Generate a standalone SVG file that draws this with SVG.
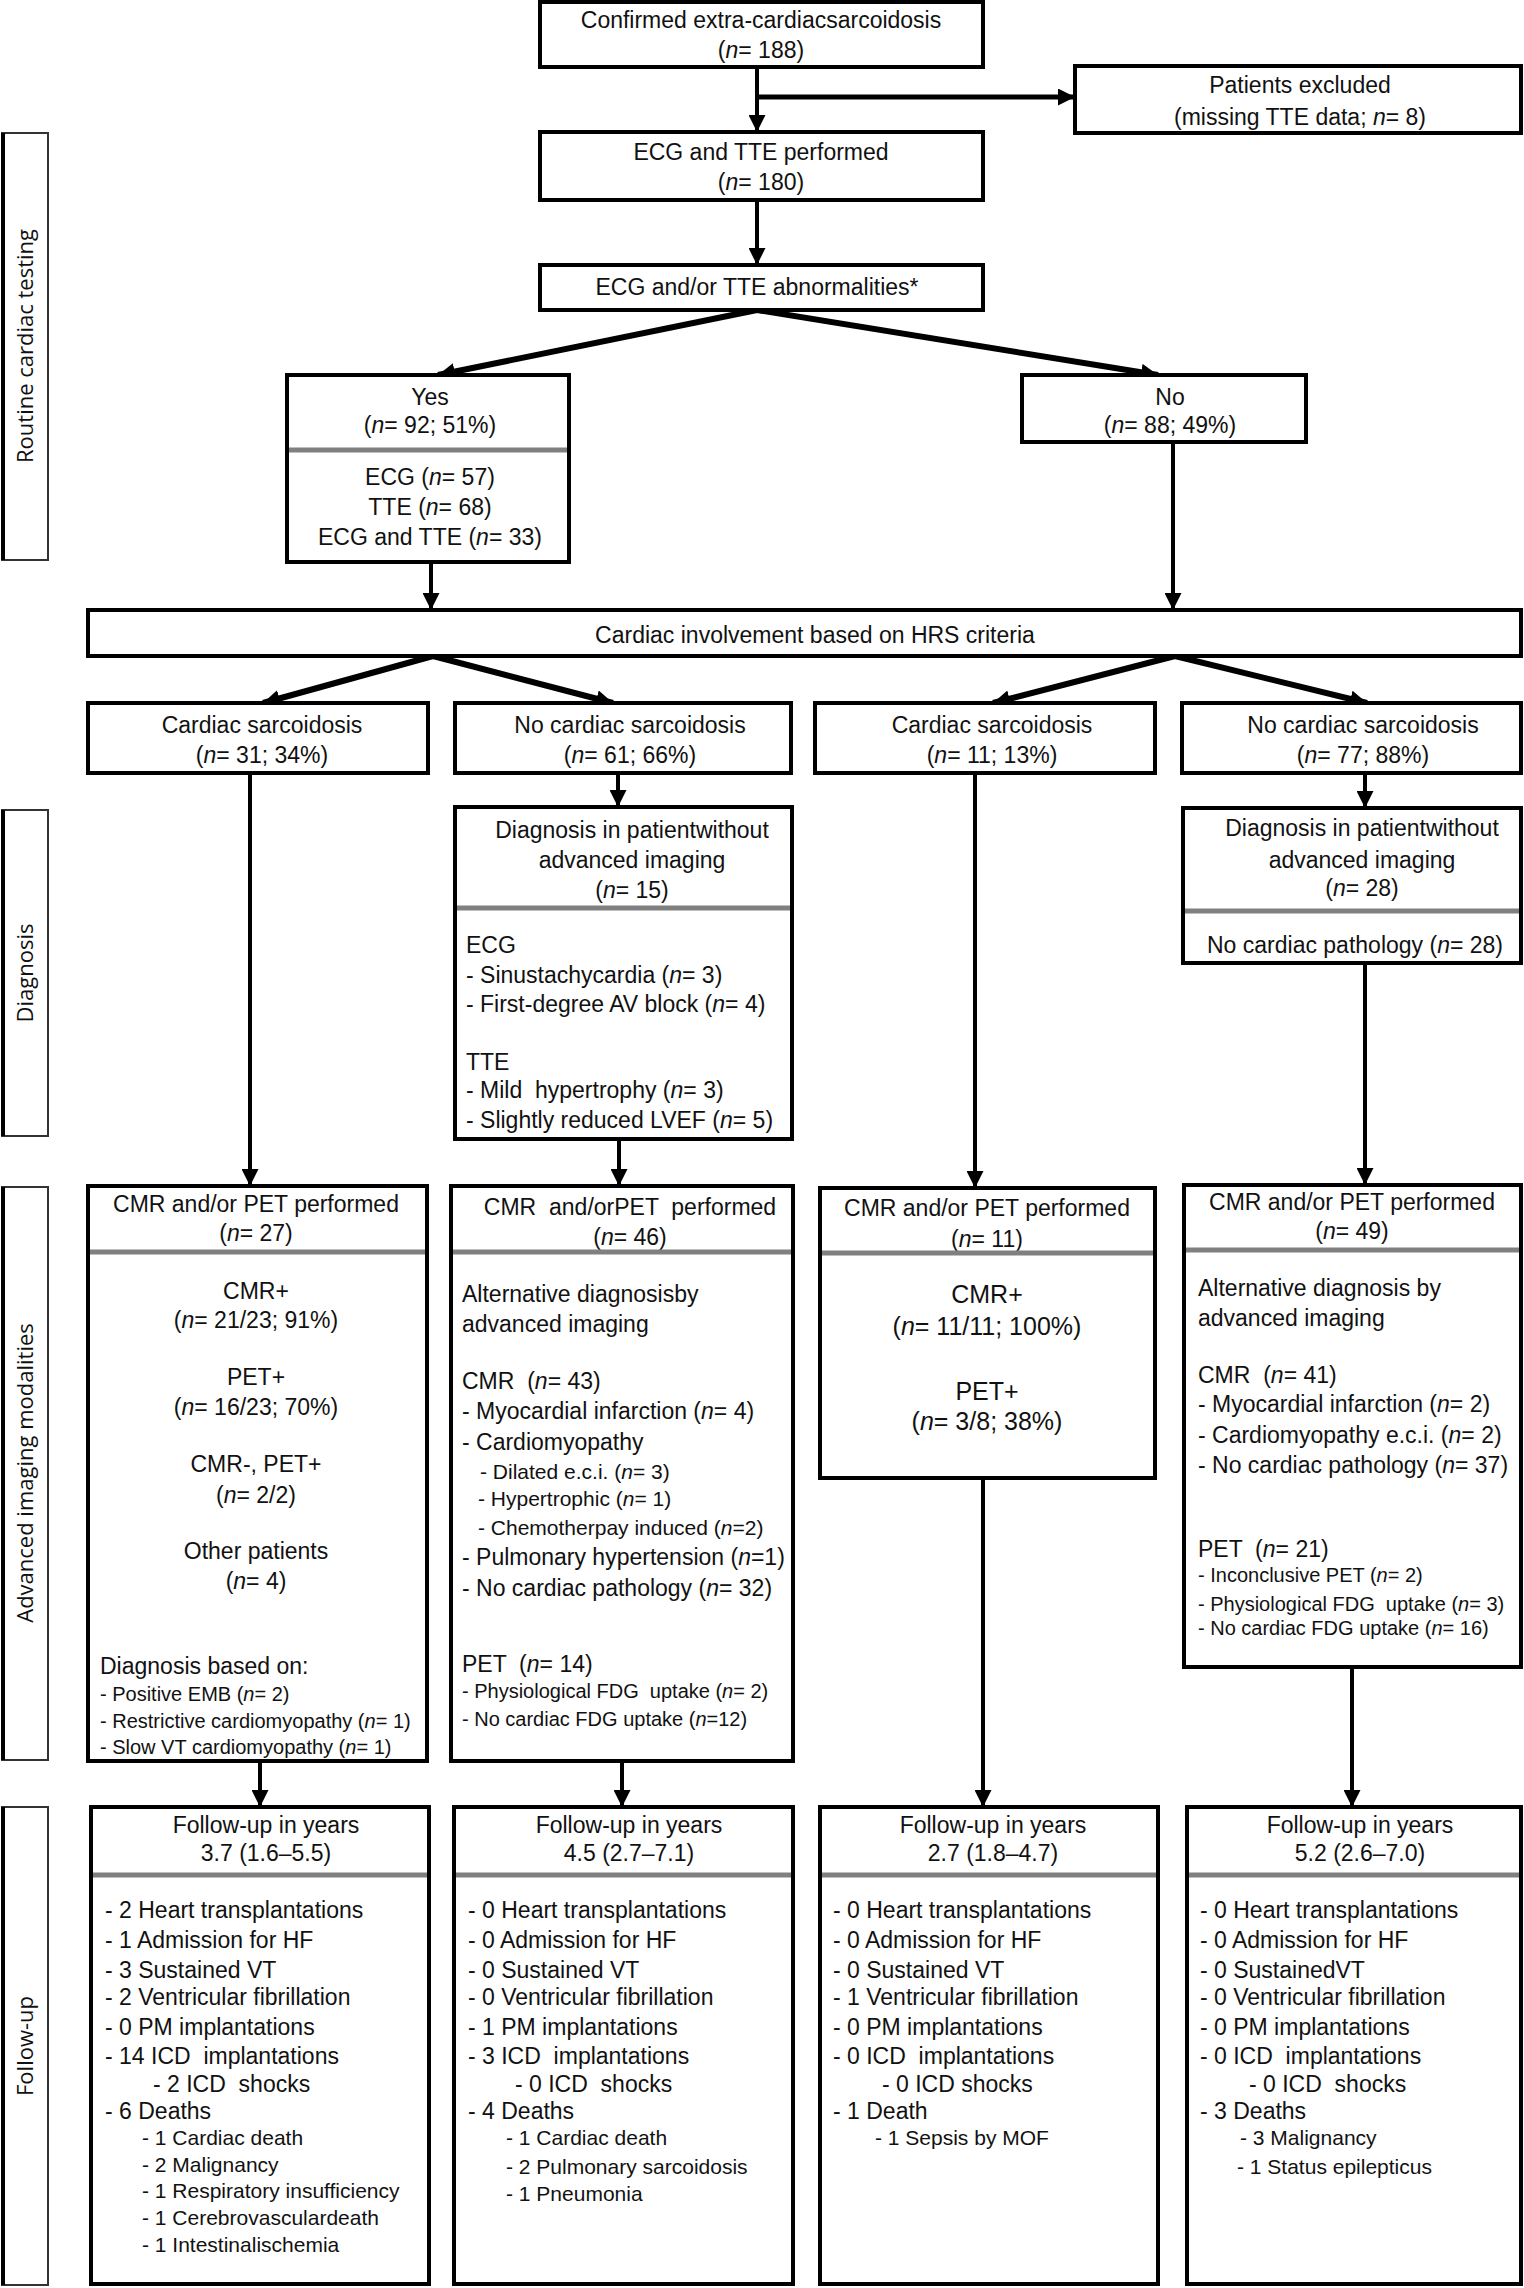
<svg xmlns="http://www.w3.org/2000/svg" width="1524" height="2288" viewBox="0 0 1524 2288" xml:space="preserve">
<style>
.b{fill:#fff;stroke:#000;stroke-width:4}
.lb{fill:#fff;stroke:#333;stroke-width:2}
.t{font-family:"Liberation Sans",Arial,sans-serif;font-size:23px;fill:#111;white-space:pre}
.c{text-anchor:middle}
.s{font-size:20px}
.m{font-size:21px}
.l{font-size:25px}
.dv{stroke:#808080;stroke-width:5}
.lab{font-family:"Open Sans","DejaVu Sans",sans-serif;font-size:22px;fill:#111;text-anchor:middle}
.cn{stroke:#000;stroke-width:4;fill:none;marker-end:url(#ah)}
.dg{stroke-width:6}
.i{font-style:italic}
</style>
<defs>
<marker id="ah" viewBox="0 0 10 10" refX="10" refY="5" markerUnits="userSpaceOnUse" markerWidth="17" markerHeight="17" orient="auto"><path d="M0,0 L10,5 L0,10 z" fill="#000"/></marker>
</defs>
<rect width="1524" height="2288" fill="#fff"/>

<g id="labels">
<g id="lab-routine"><rect class="lb" x="2" y="133" width="46" height="427"/><line x1="3" y1="133" x2="3" y2="560" stroke="#000" stroke-width="4"/><text class="lab" transform="translate(33,346) rotate(-90)">Routine cardiac testing</text></g>
<g id="lab-diagnosis"><rect class="lb" x="2" y="810" width="46" height="326"/><line x1="3" y1="810" x2="3" y2="1136" stroke="#000" stroke-width="4"/><text class="lab" transform="translate(33,973) rotate(-90)">Diagnosis</text></g>
<g id="lab-advanced"><rect class="lb" x="2" y="1187" width="46" height="573"/><line x1="3" y1="1187" x2="3" y2="1760" stroke="#000" stroke-width="4"/><text class="lab" transform="translate(33,1473) rotate(-90)">Advanced imaging modalities</text></g>
<g id="lab-followup"><rect class="lb" x="2" y="1807" width="46" height="478"/><line x1="3" y1="1807" x2="3" y2="2285" stroke="#000" stroke-width="4"/><text class="lab" transform="translate(33,2046) rotate(-90)">Follow-up</text></g>
</g>

<g id="connectors">
<path class="cn" d="M757,67 V132"/>
<path class="cn" d="M757,97 H1075" style="stroke-width:5"/>
<path class="cn" d="M757,200 V265"/>
<path class="cn dg" d="M757,310 L438,375"/>
<path class="cn dg" d="M757,310 L1158,375"/>
<path class="cn" d="M431,562 V610"/>
<path class="cn" d="M1173,442 V610"/>
<path class="cn dg" d="M433,656 L263,703"/>
<path class="cn dg" d="M433,656 L613,703"/>
<path class="cn dg" d="M1175,656 L993,703"/>
<path class="cn dg" d="M1175,656 L1367,703"/>
<path class="cn" d="M250,773 V1186"/>
<path class="cn" d="M618,773 V807"/>
<path class="cn" d="M619,1139 V1186"/>
<path class="cn" d="M975,773 V1188"/>
<path class="cn" d="M1365,773 V808"/>
<path class="cn" d="M1365,963 V1185"/>
<path class="cn" d="M260,1761 V1807"/>
<path class="cn" d="M622,1761 V1807"/>
<path class="cn" d="M983,1478 V1807"/>
<path class="cn" d="M1352,1667 V1807"/>
</g>

<g id="n-confirmed"><rect class="b" x="540" y="2" width="443" height="65"/>
<text class="t c" x="761" y="28">Confirmed extra-cardiacsarcoidosis</text>
<text class="t c" x="761" y="58">(<tspan class="i">n</tspan>= 188)</text></g>

<g id="n-excluded"><rect class="b" x="1075" y="66" width="446" height="67"/>
<text class="t c" x="1300" y="93">Patients excluded</text>
<text class="t c" x="1300" y="125">(missing TTE data; <tspan class="i">n</tspan>= 8)</text></g>

<g id="n-ecgtte"><rect class="b" x="540" y="132" width="443" height="68"/>
<text class="t c" x="761" y="160">ECG and TTE performed</text>
<text class="t c" x="761" y="190">(<tspan class="i">n</tspan>= 180)</text></g>

<g id="n-abn"><rect class="b" x="540" y="265" width="443" height="45"/>
<text class="t c" x="757" y="295">ECG and/or TTE abnormalities*</text></g>

<g id="n-yes"><rect class="b" x="287" y="375" width="282" height="187"/>
<text class="t c" x="430" y="405">Yes</text>
<text class="t c" x="430" y="433">(<tspan class="i">n</tspan>= 92; 51%)</text>
<line class="dv" x1="289" y1="450" x2="567" y2="450"/>
<text class="t c" x="430" y="485">ECG (<tspan class="i">n</tspan>= 57)</text>
<text class="t c" x="430" y="515">TTE (<tspan class="i">n</tspan>= 68)</text>
<text class="t c" x="430" y="545">ECG and TTE (<tspan class="i">n</tspan>= 33)</text></g>

<g id="n-no"><rect class="b" x="1022" y="375" width="284" height="67"/>
<text class="t c" x="1170" y="405">No</text>
<text class="t c" x="1170" y="433">(<tspan class="i">n</tspan>= 88; 49%)</text></g>

<g id="n-hrs"><rect class="b" x="88" y="610" width="1433" height="46"/>
<text class="t c" x="815" y="643">Cardiac involvement based on HRS criteria</text></g>

<g id="n-cs1"><rect class="b" x="88" y="703" width="340" height="70"/>
<text class="t c" x="262" y="733">Cardiac sarcoidosis</text>
<text class="t c" x="262" y="763">(<tspan class="i">n</tspan>= 31; 34%)</text></g>
<g id="n-ncs1"><rect class="b" x="455" y="703" width="336" height="70"/>
<text class="t c" x="630" y="733">No cardiac sarcoidosis</text>
<text class="t c" x="630" y="763">(<tspan class="i">n</tspan>= 61; 66%)</text></g>
<g id="n-cs2"><rect class="b" x="815" y="703" width="340" height="70"/>
<text class="t c" x="992" y="733">Cardiac sarcoidosis</text>
<text class="t c" x="992" y="763">(<tspan class="i">n</tspan>= 11; 13%)</text></g>
<g id="n-ncs2"><rect class="b" x="1182" y="703" width="339" height="70"/>
<text class="t c" x="1363" y="733">No cardiac sarcoidosis</text>
<text class="t c" x="1363" y="763">(<tspan class="i">n</tspan>= 77; 88%)</text></g>

<g id="n-diag1"><rect class="b" x="455" y="807" width="337" height="332"/>
<text class="t c" x="632" y="838">Diagnosis in patientwithout</text>
<text class="t c" x="632" y="868">advanced imaging</text>
<text class="t c" x="632" y="898">(<tspan class="i">n</tspan>= 15)</text>
<line class="dv" x1="457" y1="908" x2="790" y2="908"/>
<text class="t" x="466" y="953">ECG</text>
<text class="t" x="466" y="983">- Sinustachycardia (<tspan class="i">n</tspan>= 3)</text>
<text class="t" x="466" y="1012">- First-degree AV block (<tspan class="i">n</tspan>= 4)</text>
<text class="t" x="466" y="1070">TTE</text>
<text class="t" x="466" y="1098" xml:space="preserve">- Mild  hypertrophy (<tspan class="i">n</tspan>= 3)</text>
<text class="t" x="466" y="1128">- Slightly reduced LVEF (<tspan class="i">n</tspan>= 5)</text></g>

<g id="n-diag2"><rect class="b" x="1183" y="808" width="338" height="155"/>
<text class="t c" x="1362" y="836">Diagnosis in patientwithout</text>
<text class="t c" x="1362" y="868">advanced imaging</text>
<text class="t c" x="1362" y="896">(<tspan class="i">n</tspan>= 28)</text>
<line class="dv" x1="1185" y1="911" x2="1519" y2="911"/>
<text class="t c" x="1355" y="953">No cardiac pathology (<tspan class="i">n</tspan>= 28)</text></g>

<g id="n-cmr1"><rect class="b" x="88" y="1186" width="339" height="575"/>
<text class="t c" x="256" y="1212">CMR and/or PET performed</text>
<text class="t c" x="256" y="1241">(<tspan class="i">n</tspan>= 27)</text>
<line class="dv" x1="90" y1="1252" x2="425" y2="1252"/>
<text class="t c" x="256" y="1299">CMR+</text>
<text class="t c" x="256" y="1328">(<tspan class="i">n</tspan>= 21/23; 91%)</text>
<text class="t c" x="256" y="1385">PET+</text>
<text class="t c" x="256" y="1415">(<tspan class="i">n</tspan>= 16/23; 70%)</text>
<text class="t c" x="256" y="1472">CMR-, PET+</text>
<text class="t c" x="256" y="1503">(<tspan class="i">n</tspan>= 2/2)</text>
<text class="t c" x="256" y="1559">Other patients</text>
<text class="t c" x="256" y="1589">(<tspan class="i">n</tspan>= 4)</text>
<text class="t" x="100" y="1674">Diagnosis based on:</text>
<text class="t s" x="100" y="1701">- Positive EMB (<tspan class="i">n</tspan>= 2)</text>
<text class="t s" x="100" y="1728">- Restrictive cardiomyopathy (<tspan class="i">n</tspan>= 1)</text>
<text class="t s" x="100" y="1754">- Slow VT cardiomyopathy (<tspan class="i">n</tspan>= 1)</text></g>

<g id="n-cmr2"><rect class="b" x="451" y="1186" width="342" height="575"/>
<text class="t c" x="630" y="1215" xml:space="preserve">CMR  and/orPET  performed</text>
<text class="t c" x="630" y="1245">(<tspan class="i">n</tspan>= 46)</text>
<line class="dv" x1="453" y1="1252" x2="791" y2="1252"/>
<text class="t" x="462" y="1302">Alternative diagnosisby</text>
<text class="t" x="462" y="1332">advanced imaging</text>
<text class="t" x="462" y="1389" xml:space="preserve">CMR  (<tspan class="i">n</tspan>= 43)</text>
<text class="t" x="462" y="1419">- Myocardial infarction (<tspan class="i">n</tspan>= 4)</text>
<text class="t" x="462" y="1450">- Cardiomyopathy</text>
<text class="t m" x="480" y="1479">- Dilated e.c.i. (<tspan class="i">n</tspan>= 3)</text>
<text class="t m" x="478" y="1506">- Hypertrophic (<tspan class="i">n</tspan>= 1)</text>
<text class="t m" x="478" y="1535">- Chemotherpay induced (<tspan class="i">n</tspan>=2)</text>
<text class="t" x="462" y="1565">- Pulmonary hypertension (<tspan class="i">n</tspan>=1)</text>
<text class="t" x="462" y="1596">- No cardiac pathology (<tspan class="i">n</tspan>= 32)</text>
<text class="t" x="462" y="1672" xml:space="preserve">PET  (<tspan class="i">n</tspan>= 14)</text>
<text class="t s" x="462" y="1698" xml:space="preserve">- Physiological FDG  uptake (<tspan class="i">n</tspan>= 2)</text>
<text class="t s" x="462" y="1726">- No cardiac FDG uptake (<tspan class="i">n</tspan>=12)</text></g>

<g id="n-cmr3"><rect class="b" x="820" y="1188" width="335" height="290"/>
<text class="t c" x="987" y="1216">CMR and/or PET performed</text>
<text class="t c" x="987" y="1247">(<tspan class="i">n</tspan>= 11)</text>
<line class="dv" x1="822" y1="1253" x2="1153" y2="1253"/>
<text class="t c l" x="987" y="1303">CMR+</text>
<text class="t c l" x="987" y="1335">(<tspan class="i">n</tspan>= 11/11; 100%)</text>
<text class="t c l" x="987" y="1400">PET+</text>
<text class="t c l" x="987" y="1430">(<tspan class="i">n</tspan>= 3/8; 38%)</text></g>

<g id="n-cmr4"><rect class="b" x="1184" y="1185" width="337" height="482"/>
<text class="t c" x="1352" y="1210">CMR and/or PET performed</text>
<text class="t c" x="1352" y="1239">(<tspan class="i">n</tspan>= 49)</text>
<line class="dv" x1="1186" y1="1250" x2="1519" y2="1250"/>
<text class="t" x="1198" y="1296">Alternative diagnosis by</text>
<text class="t" x="1198" y="1326">advanced imaging</text>
<text class="t" x="1198" y="1383" xml:space="preserve">CMR  (<tspan class="i">n</tspan>= 41)</text>
<text class="t" x="1198" y="1412">- Myocardial infarction (<tspan class="i">n</tspan>= 2)</text>
<text class="t" x="1198" y="1443">- Cardiomyopathy e.c.i. (<tspan class="i">n</tspan>= 2)</text>
<text class="t" x="1198" y="1473">- No cardiac pathology (<tspan class="i">n</tspan>= 37)</text>
<text class="t" x="1198" y="1557" xml:space="preserve">PET  (<tspan class="i">n</tspan>= 21)</text>
<text class="t s" x="1198" y="1582">- Inconclusive PET (<tspan class="i">n</tspan>= 2)</text>
<text class="t s" x="1198" y="1611" xml:space="preserve">- Physiological FDG  uptake (<tspan class="i">n</tspan>= 3)</text>
<text class="t s" x="1198" y="1635">- No cardiac FDG uptake (<tspan class="i">n</tspan>= 16)</text></g>

<g id="n-fu1"><rect class="b" x="91" y="1807" width="338" height="477"/>
<text class="t c" x="266" y="1833">Follow-up in years</text>
<text class="t c" x="266" y="1861">3.7 (1.6–5.5)</text>
<line class="dv" x1="93" y1="1875" x2="427" y2="1875"/>
<text class="t" x="105" y="1918">- 2 Heart transplantations</text>
<text class="t" x="105" y="1948">- 1 Admission for HF</text>
<text class="t" x="105" y="1978">- 3 Sustained VT</text>
<text class="t" x="105" y="2005">- 2 Ventricular fibrillation</text>
<text class="t" x="105" y="2035">- 0 PM implantations</text>
<text class="t" x="105" y="2064" xml:space="preserve">- 14 ICD  implantations</text>
<text class="t" x="153" y="2092" xml:space="preserve">- 2 ICD  shocks</text>
<text class="t" x="105" y="2119">- 6 Deaths</text>
<text class="t m" x="142" y="2145">- 1 Cardiac death</text>
<text class="t m" x="142" y="2172">- 2 Malignancy</text>
<text class="t m" x="142" y="2198">- 1 Respiratory insufficiency</text>
<text class="t m" x="142" y="2225">- 1 Cerebrovasculardeath</text>
<text class="t m" x="142" y="2252">- 1 Intestinalischemia</text></g>

<g id="n-fu2"><rect class="b" x="454" y="1807" width="339" height="477"/>
<text class="t c" x="629" y="1833">Follow-up in years</text>
<text class="t c" x="629" y="1861">4.5 (2.7–7.1)</text>
<line class="dv" x1="456" y1="1875" x2="791" y2="1875"/>
<text class="t" x="468" y="1918">- 0 Heart transplantations</text>
<text class="t" x="468" y="1948">- 0 Admission for HF</text>
<text class="t" x="468" y="1978">- 0 Sustained VT</text>
<text class="t" x="468" y="2005">- 0 Ventricular fibrillation</text>
<text class="t" x="468" y="2035">- 1 PM implantations</text>
<text class="t" x="468" y="2064" xml:space="preserve">- 3 ICD  implantations</text>
<text class="t" x="515" y="2092" xml:space="preserve">- 0 ICD  shocks</text>
<text class="t" x="468" y="2119">- 4 Deaths</text>
<text class="t m" x="506" y="2145">- 1 Cardiac death</text>
<text class="t m" x="506" y="2174">- 2 Pulmonary sarcoidosis</text>
<text class="t m" x="506" y="2201">- 1 Pneumonia</text></g>

<g id="n-fu3"><rect class="b" x="820" y="1807" width="338" height="477"/>
<text class="t c" x="993" y="1833">Follow-up in years</text>
<text class="t c" x="993" y="1861">2.7 (1.8–4.7)</text>
<line class="dv" x1="822" y1="1875" x2="1156" y2="1875"/>
<text class="t" x="833" y="1918">- 0 Heart transplantations</text>
<text class="t" x="833" y="1948">- 0 Admission for HF</text>
<text class="t" x="833" y="1978">- 0 Sustained VT</text>
<text class="t" x="833" y="2005">- 1 Ventricular fibrillation</text>
<text class="t" x="833" y="2035">- 0 PM implantations</text>
<text class="t" x="833" y="2064" xml:space="preserve">- 0 ICD  implantations</text>
<text class="t" x="882" y="2092">- 0 ICD shocks</text>
<text class="t" x="833" y="2119">- 1 Death</text>
<text class="t m" x="875" y="2145">- 1 Sepsis by MOF</text></g>

<g id="n-fu4"><rect class="b" x="1187" y="1807" width="334" height="477"/>
<text class="t c" x="1360" y="1833">Follow-up in years</text>
<text class="t c" x="1360" y="1861">5.2 (2.6–7.0)</text>
<line class="dv" x1="1189" y1="1875" x2="1519" y2="1875"/>
<text class="t" x="1200" y="1918">- 0 Heart transplantations</text>
<text class="t" x="1200" y="1948">- 0 Admission for HF</text>
<text class="t" x="1200" y="1978">- 0 SustainedVT</text>
<text class="t" x="1200" y="2005">- 0 Ventricular fibrillation</text>
<text class="t" x="1200" y="2035">- 0 PM implantations</text>
<text class="t" x="1200" y="2064" xml:space="preserve">- 0 ICD  implantations</text>
<text class="t" x="1249" y="2092" xml:space="preserve">- 0 ICD  shocks</text>
<text class="t" x="1200" y="2119">- 3 Deaths</text>
<text class="t m" x="1240" y="2145">- 3 Malignancy</text>
<text class="t m" x="1237" y="2174">- 1 Status epilepticus</text></g>
</svg>
